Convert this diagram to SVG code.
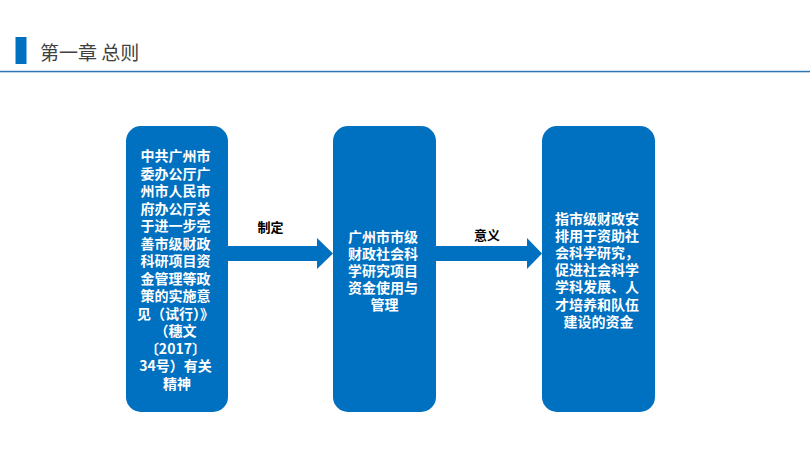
<svg xmlns="http://www.w3.org/2000/svg" width="810" height="456" viewBox="0 0 810 456">
<style>
.box{fill:#0070C0}
.arrow{fill:#0070C0}
.bt{font-family:"Noto Sans CJK SC","Noto Sans",sans-serif;font-size:14px;font-weight:bold;fill:#FFFFFF;text-anchor:middle}
.lbl{font-family:"Noto Sans CJK SC","Noto Sans",sans-serif;font-size:13px;font-weight:bold;fill:#000000;text-anchor:middle}
.title{font-family:"Noto Sans CJK SC","Noto Sans",sans-serif;font-size:19px;fill:#404040}
</style>
<rect width="810" height="456" fill="#FFFFFF"/>
<g id="header">
<rect x="15.5" y="37" width="11" height="27" fill="#0070C0"/>
<text class="title" x="40" y="60">第一章 总则</text>
<rect x="0" y="70.8" width="810" height="1.5" fill="#2E75B6"/>
</g>
<g id="connectors">
<polygon class="arrow" points="228,246 317,246 317,238 333,253.5 317,269 317,261 228,261"/>
<text class="lbl" x="270.5" y="232">制定</text>
<polygon class="arrow" points="436,246 527,246 527,238 542,253.5 527,269 527,261 436,261"/>
<text class="lbl" x="487" y="240">意义</text>
</g>
<g id="node1">
<rect class="box" x="126" y="126" width="102" height="286" rx="15" ry="15"/>
<text class="bt" x="177">
<tspan x="177" y="161">中共广州市</tspan>
<tspan x="177" y="178.5">委办公厅广</tspan>
<tspan x="177" y="196">州市人民市</tspan>
<tspan x="177" y="213.5">府办公厅关</tspan>
<tspan x="177" y="231">于进一步完</tspan>
<tspan x="177" y="248.5">善市级财政</tspan>
<tspan x="177" y="266">科研项目资</tspan>
<tspan x="177" y="283.5">金管理等政</tspan>
<tspan x="177" y="301">策的实施意</tspan>
<tspan x="177" y="318.5">见（试行）》</tspan>
<tspan x="177" y="336">（穗文</tspan>
<tspan x="177" y="353.5">〔2017〕</tspan>
<tspan x="177" y="371">34号）有关</tspan>
<tspan x="177" y="388.5">精神</tspan>
</text>
</g>
<g id="node2">
<rect class="box" x="333" y="126" width="103" height="286" rx="15" ry="15"/>
<text class="bt">
<tspan x="384.5" y="242">广州市市级</tspan>
<tspan x="384.5" y="259">财政社会科</tspan>
<tspan x="384.5" y="276">学研究项目</tspan>
<tspan x="384.5" y="293">资金使用与</tspan>
<tspan x="384.5" y="310">管理</tspan>
</text>
</g>
<g id="node3">
<rect class="box" x="542" y="126" width="113" height="286" rx="15" ry="15"/>
<text class="bt">
<tspan x="598.5" y="224">指市级财政安</tspan>
<tspan x="598.5" y="241.1">排用于资助社</tspan>
<tspan x="598.5" y="258.2">会科学研究，</tspan>
<tspan x="598.5" y="275.3">促进社会科学</tspan>
<tspan x="598.5" y="292.4">学科发展、人</tspan>
<tspan x="598.5" y="309.5">才培养和队伍</tspan>
<tspan x="598.5" y="326.6">建设的资金</tspan>
</text>
</g>
</svg>
